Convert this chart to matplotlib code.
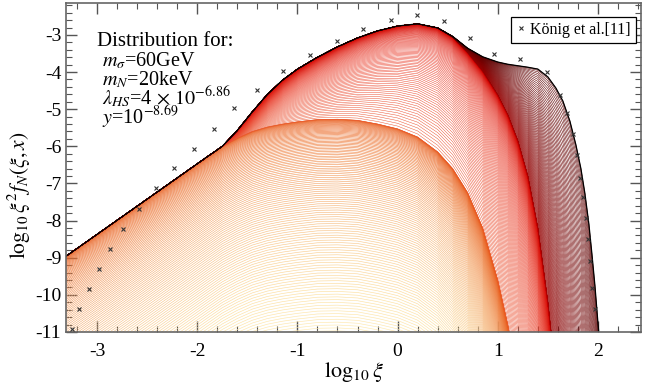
import numpy as np
import matplotlib
matplotlib.use("Agg")
import matplotlib.pyplot as plt
from matplotlib.ticker import MultipleLocator
from matplotlib.collections import LineCollection
from matplotlib.colors import LinearSegmentedColormap

plt.rcParams['font.family'] = ['Liberation Serif', 'DejaVu Serif']
plt.rcParams['mathtext.fontset'] = 'stix'
plt.rcParams['axes.unicode_minus'] = False

# log10(xi) grid shared by the snapshot curves
log_xi = [-3.4, -3.0, -2.6, -2.2, -1.9, -1.75, -1.6, -1.45, -1.3, -1.15, -1.0, -0.8,
          -0.6, -0.4, -0.2, 0.0, 0.2, 0.4, 0.55, 0.7, 0.85, 1.0, 1.1, 1.2, 1.3, 1.4,
          1.5, 1.58, 1.65, 1.72, 1.78, 1.83, 1.87, 1.91, 1.94, 1.97, 2.0, 2.04]

# final distribution (black envelope)
f_final = [-9.13, -8.37, -7.61, -6.85, -6.28, -6.0, -5.57, -5.07, -4.60, -4.22, -3.92, -3.60,
           -3.32, -3.08, -2.89, -2.76, -2.70, -2.81, -3.04, -3.36, -3.59, -3.73, -3.79, -3.83,
           -3.87, -3.92, -4.13, -4.43, -4.78, -5.32, -5.96, -6.60, -7.27, -8.10, -8.90, -9.75,
           -10.75, -12.0]

# last curve of the red family (before the high-xi shoulder builds up)
f_mid = [-9.13, -8.37, -7.61, -6.85, -6.28, -6.0, -5.57, -5.07, -4.60, -4.22, -3.92, -3.60,
         -3.32, -3.08, -2.89, -2.76, -2.70, -2.81, -3.06, -3.48, -3.98, -4.62, -5.15, -5.85,
         -6.8, -8.2, -10.2, -12.2, -14.3, -16.5, -18.5, -20.0, -21.5, -23.0, -24.0, -25.0,
         -26.0, -27.0]

# top curve of the early (yellow / orange) family
f_early = [-9.13, -8.37, -7.61, -6.85, -6.28, -6.0, -5.78, -5.60, -5.48, -5.40, -5.34, -5.28,
           -5.27, -5.30, -5.40, -5.53, -5.75, -6.15, -6.60, -7.25, -8.2, -9.6, -10.8, -12.2,
           -13.8, -15.5, -17.5, -19.0, -20.5, -22.0, -23.5, -25.0, -26.0, -27.0, -28.0, -29.0,
           -30.0, -31.0]

# earliest curve of the early family
f_start = [-15.63, -14.87, -14.11, -13.35, -12.78, -12.5, -12.28, -12.1, -11.98, -11.9, -11.84,
           -11.78, -11.77, -11.8, -11.9, -12.03, -12.25, -12.65, -13.1, -13.75, -14.7, -16.1,
           -17.3, -18.7, -20.3, -22.0, -24.0, -25.5, -27.0, -28.5, -30.0, -31.5, -32.5, -33.5,
           -34.5, -35.5, -36.5, -37.5]

# König et al. [11]
konig_x = [-3.253, -3.177, -3.083, -2.983, -2.870, -2.737, -2.584, -2.411, -2.228, -2.035,
           -1.832, -1.630, -1.408, -1.141, -0.874, -0.608, -0.342, -0.069, 0.197, 0.463,
           0.719, 0.965, 1.218, 1.488, 1.621, 1.694, 1.748, 1.788, 1.818, 1.847, 1.880,
           1.900, 1.920, 1.943, 1.967]
konig_y = [-10.93, -10.39, -9.85, -9.30, -8.77, -8.22, -7.68, -7.11, -6.59, -6.06,
           -5.53, -4.98, -4.47, -3.97, -3.54, -3.17, -2.84, -2.60, -2.47, -2.62,
           -3.08, -3.50, -3.65, -3.99, -4.61, -5.11, -5.67, -6.22, -6.84, -7.37, -7.94,
           -8.49, -9.09, -9.82, -10.38]

cmap_early = LinearSegmentedColormap.from_list(
    'early', ['#fff1be', '#fde0a2', '#f8c68c', '#f4a86e', '#ee8042', '#e85a1a'])
cmap_red = LinearSegmentedColormap.from_list(
    'red', ['#ec5a38', '#ea3c2a', '#dc1a12', '#cc0000'])
cmap_dark = LinearSegmentedColormap.from_list(
    'dark', ['#980000', '#7a0000', '#5a0000'])


def family(ax, lo, hi, n, cm, p, lw, alpha=1.0):
    lo = np.asarray(lo)
    hi = np.asarray(hi)
    s = np.linspace(0, 1, n)
    w = 1 - (1 - s) ** p
    segs = [np.column_stack([log_xi, lo + wi * (hi - lo)]) for wi in w]
    ax.add_collection(LineCollection(segs, colors=cm(s), linewidths=lw, alpha=alpha))


fig = plt.figure(figsize=(6.47, 3.89), dpi=100)
ax = fig.add_axes([66 / 647, 1 - 332 / 389, 575 / 647, 329 / 389])

family(ax, f_start, f_early, 120, cmap_early, 1.5, 0.45)
family(ax, f_early, f_mid, 110, cmap_red, 3.0, 0.35)
family(ax, f_mid, f_final, 60, cmap_dark, 1.2, 0.4)
ax.plot(log_xi, f_final, color='black', lw=0.9)

ax.plot(konig_x, konig_y, 'x', ms=3.2, mew=0.8, color='#333333',
        label='König et al.[11]', zorder=5)

ax.set_xlim(-3.31, 2.43)
ax.set_ylim(-11, -2.14)
ax.xaxis.set_major_locator(MultipleLocator(1))
ax.xaxis.set_minor_locator(MultipleLocator(0.2))
ax.yaxis.set_major_locator(MultipleLocator(1))
ax.yaxis.set_minor_locator(MultipleLocator(0.2))
ax.tick_params(which='both', direction='in', top=True, right=True, color='#555555', labelsize=14)
ax.tick_params(which='major', length=8, width=1)
ax.tick_params(which='minor', length=4.5, width=0.8)
ax.tick_params(axis='x', pad=8)
ax.tick_params(axis='y', pad=3.5)
for sp in ax.spines.values():
    sp.set_color('#666666')
    sp.set_linewidth(1.2)

ax.set_xlabel(r'$\log_{10}\xi$', fontsize=16, labelpad=0)
ax.set_ylabel(r'$\log_{10}\xi^2 f_N(\xi,x)$', fontsize=15.5)
ax.yaxis.set_label_coords(-0.058, 0.416)

leg = ax.legend(loc='upper right', bbox_to_anchor=(0.991, 0.957), borderaxespad=0,
                fontsize=11.5, frameon=True, fancybox=False, framealpha=1,
                edgecolor='black', handlelength=0.6, handletextpad=0.3, borderpad=0.3)
leg.get_frame().set_linewidth(0.9)

fig.text(97 / 647, 1 - 46 / 389, 'Distribution for:', fontsize=15, va='baseline')
fig.text(102 / 647, 1 - 66 / 389, r'$m_\sigma$=60GeV', fontsize=14.5, va='baseline')
fig.text(102 / 647, 1 - 85 / 389, r'$m_N$=20keV', fontsize=14.5, va='baseline')
fig.text(102 / 647, 1 - 104.5 / 389, r'$\lambda_{HS}$=4$\,\times\,10^{-6.86}$', fontsize=14.5, va='baseline')
fig.text(102 / 647, 1 - 123.5 / 389, r'$y$=10$^{-8.69}$', fontsize=14.5, va='baseline')

fig.savefig('out.png', dpi=100)
